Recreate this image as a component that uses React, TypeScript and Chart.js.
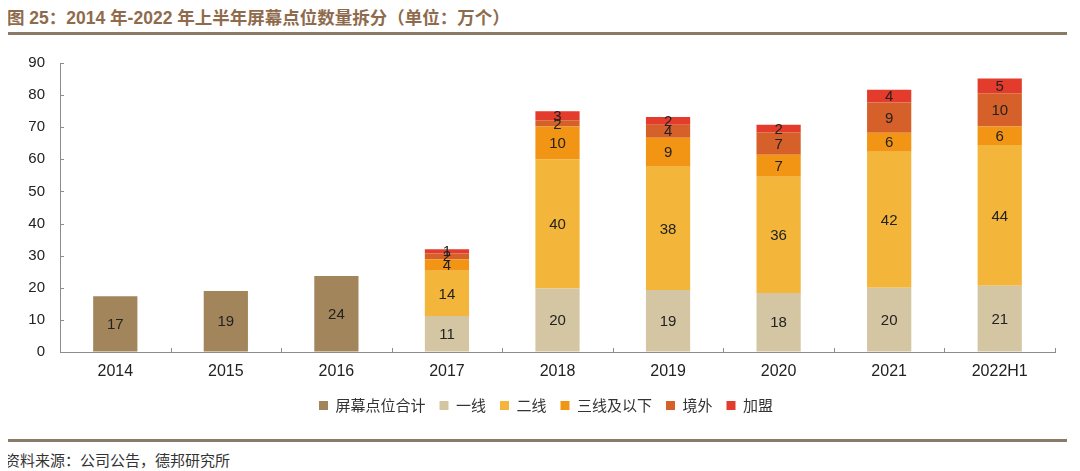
import { useEffect, useRef } from "react";
import { Chart, registerables } from "chart.js";

Chart.register(...registerables);

const categories = ["2014", "2015", "2016", "2017", "2018", "2019", "2020", "2021", "2022H1"];
const totalPoints = [17.4, 19.0, 23.7, null, null, null, null, null, null];
const tier1 = [null, null, null, 11.2, 19.8, 19.3, 18.4, 20.0, 20.6];
const tier2 = [null, null, null, 14.1, 40.2, 38.4, 36.2, 42.4, 43.9];
const tier3 = [null, null, null, 3.6, 10.2, 9.0, 6.8, 5.9, 5.7];
const overseas = [null, null, null, 1.8, 2.0, 4.1, 7.0, 9.4, 10.4];
const franchise = [null, null, null, 1.3, 2.8, 2.4, 2.4, 4.0, 4.6];

const seriesNames = ["屏幕点位合计", "一线", "二线", "三线及以下", "境外", "加盟"];
const seriesColors = ["#A3855B", "#D5C6A3", "#F4B63A", "#F29514", "#D6602A", "#E33B2C"];
const yTicks = { min: 0, max: 90, step: 10 };

const titleText = "图 25：2014 年-2022 年上半年屏幕点位数量拆分（单位：万个）";
const sourceText = "资料来源：公司公告，德邦研究所";

const dataLabelPlugin = {
  id: "dataLabels",
  afterDatasetsDraw(chart: any) {
    const ctx = chart.ctx;
    ctx.save();
    ctx.font = '15px "Liberation Sans", Arial, sans-serif';
    ctx.fillStyle = "#222";
    ctx.textAlign = "center";
    ctx.textBaseline = "middle";
    chart.data.datasets.forEach((ds: any, di: number) => {
      const meta = chart.getDatasetMeta(di);
      meta.data.forEach((el: any, i: number) => {
        const v = ds.data[i];
        if (v === null || v === undefined) return;
        const y = (el.y + el.base) / 2;
        ctx.fillText(String(Math.round(v)), el.x, y + 1);
      });
    });
    ctx.restore();
  },
};

const innerTicksPlugin = {
  id: "innerTicks",
  afterDraw(chart: any) {
    const ctx = chart.ctx;
    const x = chart.scales.x;
    const y = chart.scales.y;
    ctx.save();
    ctx.strokeStyle = "#8c8c8c";
    ctx.lineWidth = 1;
    ctx.beginPath();
    y.ticks.forEach((t: any) => {
      const py = Math.round(y.getPixelForValue(t.value)) + 0.5;
      ctx.moveTo(y.right, py);
      ctx.lineTo(y.right + 4, py);
    });
    const n = categories.length;
    for (let i = 0; i <= n; i++) {
      const px = Math.round(x.left + (i * x.width) / n) + 0.5;
      ctx.moveTo(px, x.top);
      ctx.lineTo(px, x.top - 4);
    }
    ctx.stroke();
    ctx.restore();
  },
};

const legendShiftPlugin = {
  id: "legendShift",
  afterLayout(chart: any) {
    const lg = chart.legend;
    if (!lg) return;
    lg.left += 17;
    lg.right += 17;
  },
};

export default function App() {
  const ref = useRef<HTMLCanvasElement | null>(null);

  useEffect(() => {
    if (!ref.current) return;
    const seriesData = [totalPoints, tier1, tier2, tier3, overseas, franchise];
    const chart = new Chart(ref.current, {
      type: "bar",
      data: {
        labels: categories,
        datasets: seriesData.map((d, i) => ({
          label: seriesNames[i],
          data: d as any,
          backgroundColor: seriesColors[i],
          borderWidth: 0,
          categoryPercentage: 1,
          barPercentage: 0.4,
        })),
      },
      options: {
        animation: false,
        responsive: true,
        maintainAspectRatio: false,
        layout: { padding: { top: 28, right: 12, bottom: 16, left: 0 } },
        plugins: {
          tooltip: { enabled: false },
          legend: {
            position: "bottom",
            labels: {
              boxWidth: 9,
              boxHeight: 9,
              padding: 14,
              color: "#333",
              font: { size: 15, family: '"Noto Sans CJK SC", sans-serif' },
            },
          },
        },
        scales: {
          x: {
            stacked: true,
            grid: { display: true, drawOnChartArea: false, drawTicks: false, color: "transparent" },
            border: { display: true, color: "#8c8c8c", width: 1 },
            ticks: {
              color: "#222",
              padding: 10,
              font: { size: 16, family: '"Liberation Sans", Arial, sans-serif' },
            },
            afterFit: (s: any) => {
              s.height = 32;
            },
          },
          y: {
            stacked: true,
            min: yTicks.min,
            max: yTicks.max,
            grid: { display: true, drawOnChartArea: false, drawTicks: false, color: "transparent" },
            border: { display: true, color: "#8c8c8c", width: 1 },
            ticks: {
              stepSize: yTicks.step,
              color: "#222",
              padding: 15,
              font: { size: 15, family: '"Liberation Sans", Arial, sans-serif' },
            },
            afterFit: (s: any) => {
              s.width = 57;
            },
          },
        },
      },
      plugins: [dataLabelPlugin, innerTicksPlugin, legendShiftPlugin],
    });
    return () => chart.destroy();
  }, []);

  const lineColor = "#8B7A66";
  return (
    <div style={{ margin: "0 5px 0 -5px" }}>
      <div
        style={{
          fontSize: 17.5,
          fontWeight: "bold",
          color: "#8E6B4C",
          lineHeight: "20px",
          paddingLeft: 4,
          paddingBottom: 4,
          borderBottom: `3px solid ${lineColor}`,
          fontFamily: '"Liberation Sans", Arial, "Noto Sans CJK SC", sans-serif',
          whiteSpace: "nowrap",
        }}
      >
        {titleText}
      </div>
      <div style={{ position: "relative", height: 404 }}>
        <canvas ref={ref} />
      </div>
      <div
        style={{
          borderTop: `3px solid ${lineColor}`,
          paddingTop: 8,
          paddingLeft: 2,
          fontSize: 15,
          lineHeight: "20px",
          color: "#333",
          fontFamily: '"Noto Sans CJK SC", sans-serif',
          whiteSpace: "nowrap",
        }}
      >
        {sourceText}
      </div>
    </div>
  );
}
